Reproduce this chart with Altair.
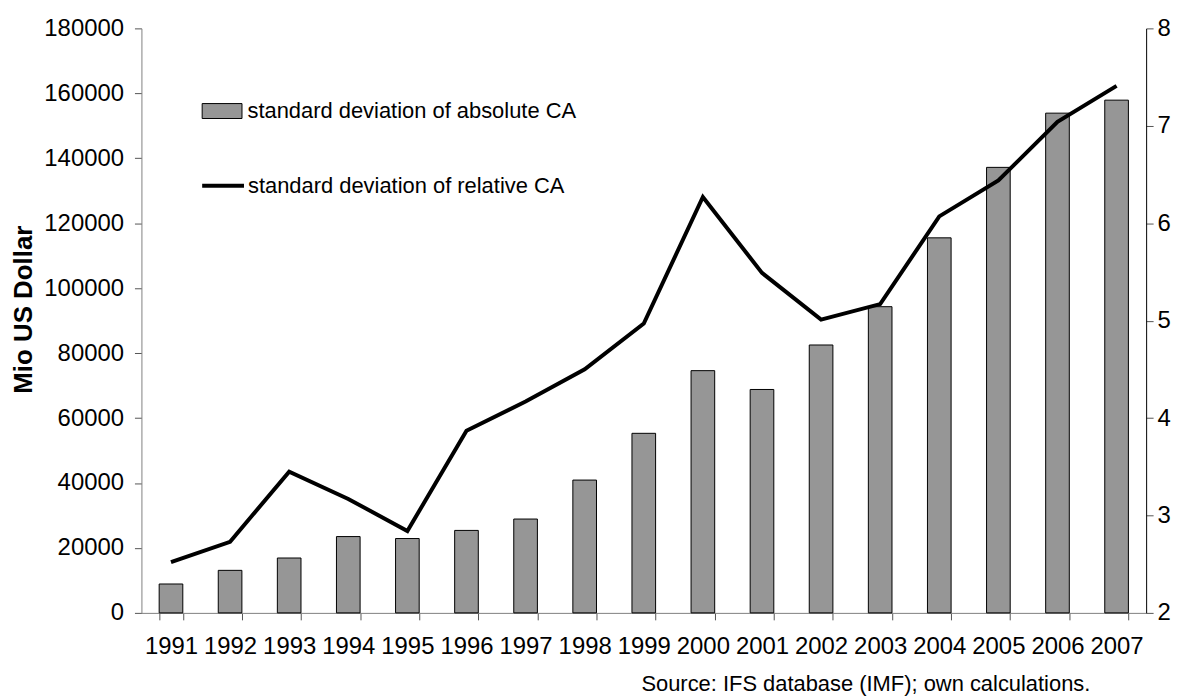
import altair as alt
import pandas as pd

years = [str(y) for y in range(1991, 2008)]
abs_ca = [8900, 13100, 16900, 23500, 22900, 25400, 28900, 40900, 55300,
          74600, 68800, 82500, 94300, 115500, 137200, 153900, 157900]
rel_ca = [2.52, 2.73, 3.45, 3.17, 2.84, 3.87, 4.17, 4.50, 4.97,
          6.27, 5.49, 5.01, 5.17, 6.07, 6.44, 7.04, 7.41]
left_ticks = list(range(0, 180001, 20000))
right_ticks = [2, 3, 4, 5, 6, 7, 8]
label_abs = "standard deviation of absolute CA"
label_rel = "standard deviation of relative CA"
source_text = "Source: IFS database (IMF); own calculations."

FONT = "Liberation Sans"
FS = 22
TFS = 24

df = pd.DataFrame({"year": years, "abs": abs_ca, "rel": rel_ca,
                   "s1": label_abs, "s2": label_rel})

xscale = alt.Scale(paddingInner=0.6, paddingOuter=0.3)
xaxis = alt.Axis(title=None, tickBand="extent", labelAngle=0, grid=False,
                 domainColor="#808080", tickColor="#555555", tickSize=7,
                 labelFont=FONT, labelFontSize=TFS, labelColor="black",
                 labelBaseline="alphabetic", labelPadding=34)

bars = alt.Chart(df).mark_bar(stroke="black", strokeWidth=1).encode(
    x=alt.X("year:N", sort=years, scale=xscale, axis=xaxis),
    y=alt.Y("abs:Q", scale=alt.Scale(domain=[0, 180000], nice=False),
            axis=alt.Axis(values=left_ticks, format="d", title="Mio US Dollar", grid=False,
                          domainColor="#808080", tickColor="#555555", tickSize=7,
                          labelPadding=11, labelFont=FONT, labelFontSize=TFS,
                          labelColor="black", titleFont=FONT, titleFontSize=26,
                          titleFontWeight="bold", titleColor="black",
                          titleX=-110, titleY=282, titleAngle=-90,
                          titleBaseline="alphabetic", titleAlign="center")),
    fill=alt.Fill("s1:N", scale=alt.Scale(range=["#969696"]),
                  legend=alt.Legend(title=None, orient="none", legendX=60.5, legendY=62.5,
                                    symbolType="M-1,-0.375H1V0.375H-1Z", symbolSize=1600,
                                    symbolStrokeColor="black", symbolStrokeWidth=1,
                                    symbolOpacity=1,
                                    labelFont=FONT, labelFontSize=FS, labelColor="black",
                                    labelOffset=5, padding=0, labelLimit=600)),
)

line = alt.Chart(df).mark_line(strokeWidth=4).encode(
    x=alt.X("year:N", sort=years),
    y=alt.Y("rel:Q", scale=alt.Scale(domain=[2, 8], nice=False),
            axis=alt.Axis(orient="right", values=right_ticks, title=None, grid=False,
                          domainColor="black", tickColor="#555555", tickSize=7,
                          labelPadding=4, labelFont=FONT, labelFontSize=TFS,
                          labelColor="black")),
    stroke=alt.Stroke("s2:N", scale=alt.Scale(range=["black"]),
                      legend=alt.Legend(title=None, orient="none", legendX=59, legendY=135,
                                        symbolType="stroke", symbolSize=1764,
                                        symbolStrokeWidth=4,
                                        labelFont=FONT, labelFontSize=FS, labelColor="black",
                                        labelOffset=2, padding=0, labelLimit=600)),
)

src = alt.Chart(pd.DataFrame({"t": [source_text]})).mark_text(
    align="right", baseline="alphabetic", font=FONT, fontSize=FS, color="black"
).encode(x=alt.value(953), y=alt.value(665), text="t:N")

chart = alt.layer(bars, line, src).resolve_scale(y="independent").properties(
    width=1009, height=587,
    autosize=alt.AutoSizeParams(type="none"),
    padding={"left": 134, "top": 19, "right": 30, "bottom": 84},
    background="white",
).configure_view(strokeWidth=0)

chart.save("out.html", embed_options={"renderer": "svg", "actions": False})
